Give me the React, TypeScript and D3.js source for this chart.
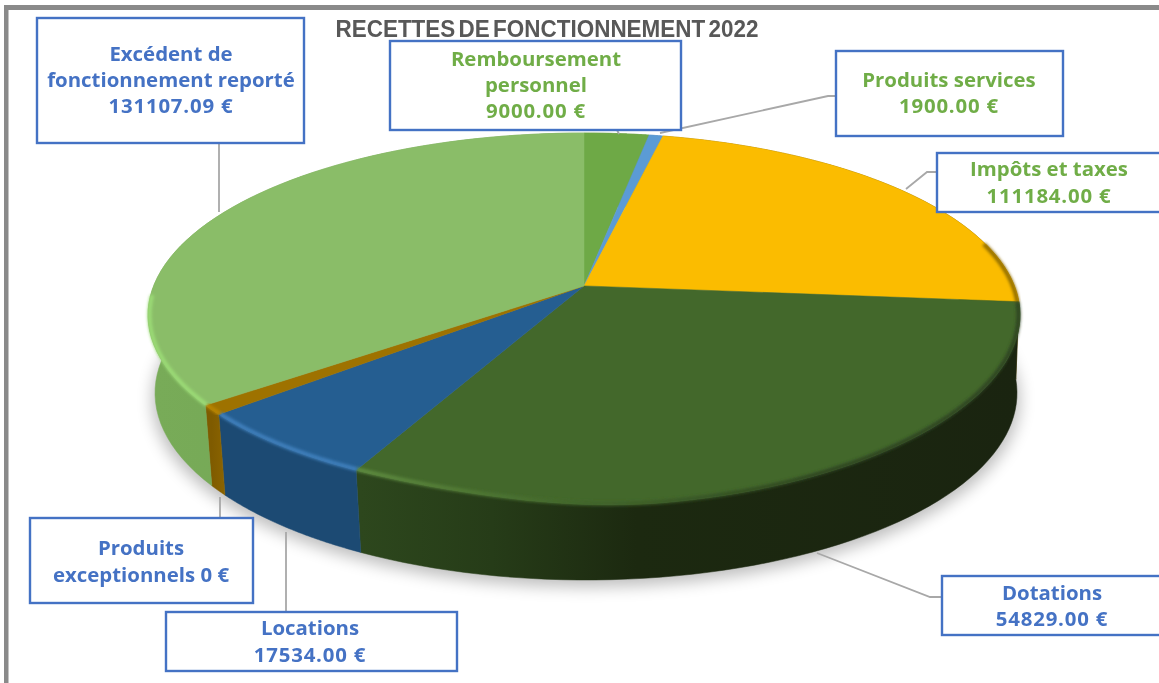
import React from "react";
import * as d3 from "d3";

const W = 1159, H = 683;
const sliceNames = ["Remboursement personnel", "Produits services", "Impôts et taxes", "Dotations", "Locations", "Produits exceptionnels", "Excédent de fonctionnement reporté"];
// shares of the disc (%)
const sliceShares = [2.8, 0.6, 23.0, 31.1, 6.25, 0.85, 35.4];
const topColors = ["#6EA946", "#5B9BD5", "#FBBC00", "#43682B", "#255E91", "#9E7200", "#8ABD68"];
const bevelColors = ["#6EA946", "#5B9BD5", "#8f6c00", "url(#bevelDark)", "#3f80bd", "#b98500", "#9bdc76"];
const wallStops: string[][] = [
  ["#5f9338", "#5f9338"],
  ["#4d86ba", "#4d86ba"],
  ["#8f6c00", "#6b5200"],
  ["#2d471d", "#263c18", "#1c2910", "#1a2410"],
  ["#1c4a73", "#1c4a73"],
  ["#7f5b00", "#8b6400"],
  ["#78ab58", "#6ea250"],
];
const wallOffsets: number[][] = [[0, 1], [0, 1], [0, 1], [0, 0.2, 0.42, 1], [0, 1], [0, 1], [0, 1]];

const labels = [
  { lines: ["Excédent de", "fonctionnement reporté", "131107.09 €"], color: "#4472C4", box: [37, 18, 304, 143], tx: 171, ty: 80.5 },
  { lines: ["Remboursement", "personnel", "9000.00 €"], color: "#70AD47", box: [390, 41, 681, 130], tx: 536, ty: 85.5 },
  { lines: ["Produits services", "1900.00 €"], color: "#70AD47", box: [836, 51, 1063, 136], tx: 949, ty: 93.5 },
  { lines: ["Impôts et taxes", "111184.00 €"], color: "#70AD47", box: [937, 153, 1172, 212], tx: 1049, ty: 183 },
  { lines: ["Dotations", "54829.00 €"], color: "#4472C4", box: [942, 576, 1172, 635], tx: 1052, ty: 606.5 },
  { lines: ["Locations", "17534.00 €"], color: "#4472C4", box: [166, 612, 457, 671], tx: 310, ty: 642 },
  { lines: ["Produits", "exceptionnels 0 €"], color: "#4472C4", box: [30, 518, 253, 603], tx: 141, ty: 562 },
];
const leaders: number[][][] = [
  [[219, 143], [219, 212]],
  [[617, 130], [619, 134]],
  [[660, 133], [828, 96], [836, 96]],
  [[906, 189], [927, 172], [937, 172]],
  [[817, 553], [930, 597], [942, 597]],
  [[286, 532], [286, 612]],
  [[220, 497], [220, 518]],
];

const top = { cx: 584, cy: 315, rx: 436, ry: 182, lean: 9 };
const base = { cx: 586, cy: 393, rx: 431, ry: 187, lean: 0 };
const persp = 0.16; // the apex sits above the ellipse centre

function project(a: number, e: typeof top) {
  const u = Math.sin(a), v = Math.cos(a);
  const d = 1 + persp * v;
  const u2 = (u * Math.sqrt(1 - persp * persp)) / d;
  const v2 = (v + persp) / d;
  const t = Math.min(1, Math.max(0, (u2 + 0.5) / 0.7));
  const bulge = e.lean * Math.pow(Math.max(0, -v2), 2) * t * t * (3 - 2 * t);
  return [e.cx + e.rx * u2, e.cy - e.ry * v2 + bulge] as [number, number];
}
const apex: [number, number] = [top.cx, top.cy - top.ry * persp];

export default function App() {
  const pie = d3.pie<number>().sort(null).startAngle(0).endAngle(2 * Math.PI);
  const arcs = pie(sliceShares);
  const line = d3.line();
  const samples = (a0: number, a1: number) => d3.range(0, 61).map((i) => a0 + ((a1 - a0) * i) / 60);
  const rim = (a0: number, a1: number, e: typeof top) => samples(a0, a1).map((a) => project(a, e));
  const inner = { ...top, rx: top.rx - 1.5, ry: top.ry - 1 };
  const rimStart = Math.PI / 2 - 0.25, rimEnd = (3 * Math.PI) / 2 - 0.05;

  return (
    <svg width={W} height={H} style={{ position: "absolute", left: 0, top: 0, background: "#fff" }}>
      <defs>
        <filter id="soft" x="-10%" y="-10%" width="120%" height="120%"><feGaussianBlur stdDeviation="8" /></filter>
        <filter id="bevel" x="-10%" y="-10%" width="120%" height="120%"><feGaussianBlur stdDeviation="1.5" /></filter>
        <filter id="tx" x="-5%" y="-20%" width="110%" height="140%"><feGaussianBlur stdDeviation="0.35" /></filter>
        <linearGradient id="bevelDark" gradientUnits="userSpaceOnUse" x1={357} x2={820} y1={0} y2={0}>
          <stop offset="0" stopColor="#5f8d40" />
          <stop offset="0.45" stopColor="#43682B" />
          <stop offset="1" stopColor="#2d4420" />
        </linearGradient>
        {arcs.map((d, i) => {
          const xs = rim(d.startAngle, d.endAngle, base).map((p) => p[0]);
          return (
            <linearGradient key={i} id={`wall${i}`} gradientUnits="userSpaceOnUse" x1={d3.min(xs)} x2={d3.max(xs)} y1={0} y2={0}>
              {wallStops[i].map((c, k) => <stop key={k} offset={wallOffsets[i][k]} stopColor={c} />)}
            </linearGradient>
          );
        })}
      </defs>
      <rect x={4} y={5} width={W} height={5} fill="#8a8a8a" />
      <rect x={4} y={5} width={4.5} height={H} fill="#8a8a8a" />

      <path d={line(rim(0, 2 * Math.PI, { ...base, cy: base.cy + 7, rx: base.rx + 3 }))! + "Z"} fill="#000" opacity={0.26} filter="url(#soft)" />

      {arcs.map((d, i) => {
        const pts = [...rim(d.startAngle, d.endAngle, top), ...rim(d.startAngle, d.endAngle, base).reverse()];
        return <path key={i} d={line(pts)! + "Z"} fill={`url(#wall${i})`} stroke={`url(#wall${i})`} strokeWidth={0.5} />;
      })}

      {arcs.map((d, i) => (
        <path key={i} d={line([apex, ...rim(d.startAngle, d.endAngle, top)])! + "Z"} fill={topColors[i]} stroke={topColors[i]} strokeWidth={0.5} />
      ))}

      {arcs.map((d, i) => {
        const a0 = Math.max(d.startAngle, rimStart), a1 = Math.min(d.endAngle, rimEnd);
        if (a1 <= a0) return null;
        return <path key={i} d={line(rim(a0, a1, inner))!} fill="none" stroke={bevelColors[i]} strokeWidth={4} filter="url(#bevel)" />;
      })}

      {leaders.map((l, i) => (
        <path key={i} d={line(l as [number, number][])!} fill="none" stroke="#a8a8a8" strokeWidth={1.8} />
      ))}

      <text x={547} y={37} textAnchor="middle" fontFamily="Liberation Sans" fontWeight={700} fontSize={23} wordSpacing={-3} fill="#595959" textLength={423} lengthAdjust="spacingAndGlyphs" filter="url(#tx)">RECETTES DE FONCTIONNEMENT 2022</text>

      {labels.map((l, i) => {
        const [x0, y0, x1, y1] = l.box;
        const step = 26.3;
        return (
          <g key={i}>
            <rect x={x0} y={y0} width={x1 - x0} height={y1 - y0} fill="#fff" stroke="#4472C4" strokeWidth={2.4} />
            {l.lines.map((t, j) => (
              <text key={j} x={l.tx} y={l.ty + (j - (l.lines.length - 1) / 2) * step + 6.5} textAnchor="middle" fontFamily="Open Sans" fontWeight={700} fontSize={20.4} letterSpacing={/^\d/.test(t) ? 0.8 : 0} fill={l.color} filter="url(#tx)">{t}</text>
            ))}
          </g>
        );
      })}
    </svg>
  );
}
